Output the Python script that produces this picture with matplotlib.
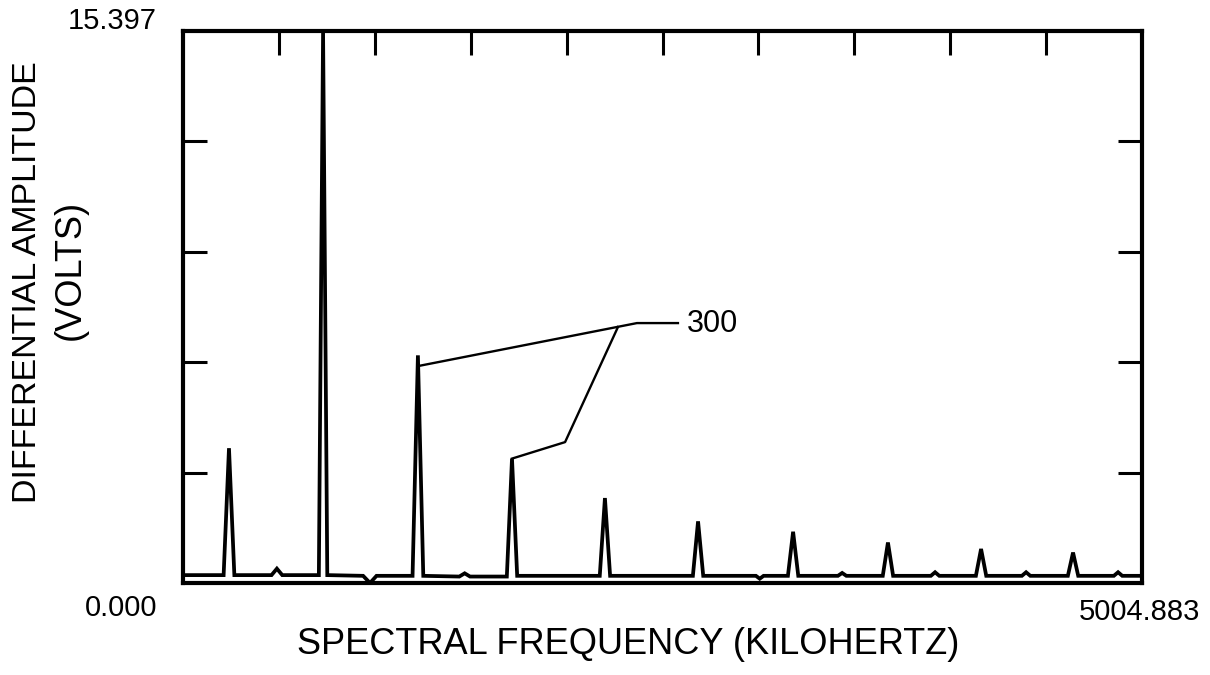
import matplotlib
matplotlib.use("Agg")
import matplotlib.pyplot as plt

# axis limits printed on the chart
X_MAX = 5004.883
Y_MAX = 15.397

# trace vertices (frequency in kHz, amplitude in volts)
freq_khz = [0, 212, 240, 268, 462, 490, 518, 709, 731, 753,
            940, 976, 1010, 1198, 1226, 1254, 1442, 1470, 1498,
            1690, 1717, 1744, 2175, 2202, 2229, 2661, 2688, 2715,
            2990, 3010, 3030, 3157, 3184, 3211, 3418, 3440, 3462,
            3652, 3679, 3706, 3903, 3925, 3947, 4138, 4165, 4192,
            4378, 4400, 4422, 4618, 4645, 4672, 4858, 4880, 4902, X_MAX]
amp_volts = [0.22, 0.22, 3.76, 0.22, 0.22, 0.40, 0.22, 0.22, 15.397, 0.22,
             0.20, 0.0, 0.20, 0.20, 6.35, 0.20, 0.18, 0.27, 0.18,
             0.18, 3.47, 0.20, 0.20, 2.37, 0.20, 0.20, 1.72, 0.20,
             0.20, 0.12, 0.20, 0.20, 1.43, 0.20, 0.20, 0.28, 0.20,
             0.20, 1.13, 0.20, 0.20, 0.30, 0.20, 0.20, 0.95, 0.20,
             0.20, 0.30, 0.20, 0.20, 0.85, 0.20, 0.20, 0.30, 0.20, 0.20]

# leader lines for the "300" callout
leader1_x = [1226, 2369, 2583]
leader1_y = [6.05, 7.25, 7.25]
leader2_x = [2270, 1994, 1717]
leader2_y = [7.14, 3.93, 3.47]
callout_label = "300"

plt.rcParams['font.family'] = ['Liberation Sans', 'DejaVu Sans']

fig = plt.figure(figsize=(12.1, 6.75), dpi=100)
ax = fig.add_axes([183 / 1210, 1 - 583 / 675, 959 / 1210, 552 / 675])

# spectrum trace
ax.plot(freq_khz, amp_volts, color="black", lw=2.7, solid_joinstyle="miter")

# callout
ax.plot(leader1_x, leader1_y, color="black", lw=1.7)
ax.plot(leader2_x, leader2_y, color="black", lw=1.7)
ax.text(2630, 7.22, callout_label, fontsize=22, ha="left", va="center")

ax.set_xlim(0, X_MAX)
ax.set_ylim(0, Y_MAX)

# ten divisions along the top, five on the sides
ax.set_xticks([X_MAX * k / 10 for k in range(1, 10)])
ax.set_yticks([Y_MAX * k / 5 for k in range(1, 5)])
ax.tick_params(axis="x", direction="in", length=17, width=2.2,
               top=True, bottom=False, labeltop=False, labelbottom=False)
ax.tick_params(axis="y", direction="in", length=17, width=2.2,
               left=True, right=True, labelleft=False, labelright=False)
for s in ax.spines.values():
    s.set_linewidth(3)

# limit labels and axis titles
fig.text(157 / 1210, 1 - 21 / 675, "15.397", fontsize=21, ha="right", va="center")
fig.text(157 / 1210, 1 - 608 / 675, "0.000", fontsize=21, ha="right", va="center")
fig.text(1200 / 1210, 1 - 612 / 675, "5004.883", fontsize=21, ha="right", va="center")
fig.text(628 / 1210, 1 - 645 / 675, "SPECTRAL FREQUENCY (KILOHERTZ)",
         fontsize=26, ha="center", va="center")
fig.text(28 / 1210, 1 - 282 / 675, "DIFFERENTIAL AMPLITUDE",
         fontsize=24.5, rotation=90, ha="center", va="center")
fig.text(70 / 1210, 1 - 270 / 675, "(VOLTS)",
         fontsize=26, rotation=90, ha="center", va="center")

fig.savefig("out.png", dpi=100)
